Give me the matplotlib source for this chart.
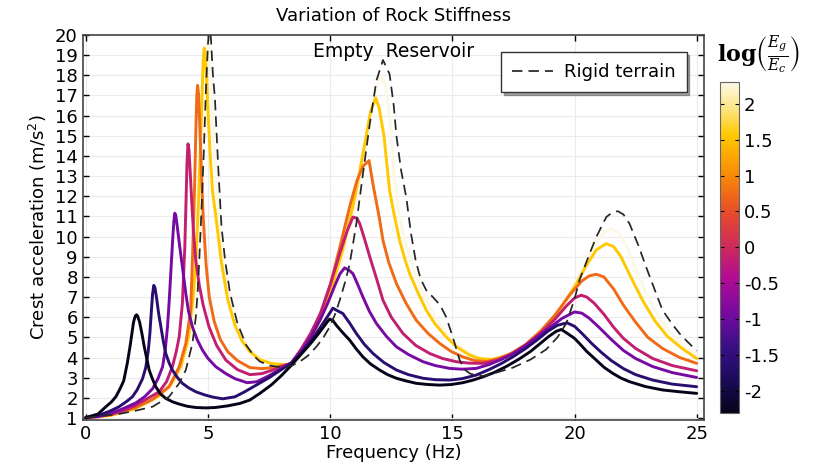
import numpy as np
import matplotlib
matplotlib.use("Agg")
import matplotlib.pyplot as plt
from matplotlib.colors import LinearSegmentedColormap, Normalize
from matplotlib.cm import ScalarMappable

plt.rcParams['font.family'] = ['DejaVu Sans']
plt.rcParams['axes.unicode_minus'] = False
plt.rcParams['mathtext.fontset'] = 'dejavuserif'

# log(Eg/Ec) of each curve
log_ratio = [-2.3, -1.6, -0.9, -0.15, 0.75, 1.55, 2.3]

# curves: frequency (Hz) and crest acceleration (m/s2)
f_black = [0, 0.5, 0.82, 1.05, 1.23, 1.4, 1.55, 1.7, 1.82, 1.95, 2.02, 2.07, 2.12, 2.2, 2.3, 2.39, 2.5,
           2.59, 2.72, 2.86, 3.05, 3.27, 3.55, 3.82, 4.15, 4.5, 4.9, 5.3, 5.8, 6.3, 6.71, 7.12, 7.6,
           8.0, 8.4, 8.8, 9.2, 9.5, 9.75, 9.9, 9.98, 10.1, 10.25, 10.5, 10.8, 11.05, 11.34, 11.65,
           12.02, 12.35, 12.71, 13.1, 13.52, 14.0, 14.48, 14.95, 15.43, 15.85, 16.25, 16.7, 17.2,
           17.7, 18.2, 18.6, 18.95, 19.25, 19.46, 19.7, 20.0, 20.2, 20.5, 20.89, 21.2, 21.57, 21.9,
           22.25, 22.9, 23.6, 24.3, 25.0]
a_black = [1.02, 1.2, 1.56, 1.8, 2.06, 2.45, 2.85, 3.75, 4.65, 5.75, 6.05, 6.12, 6.05, 5.75, 5.15, 4.53, 3.9,
           3.38, 2.95, 2.55, 2.2, 1.97, 1.8, 1.69, 1.58, 1.52, 1.5, 1.52, 1.6, 1.72, 1.89, 2.22, 2.65,
           3.1, 3.6, 4.15, 4.7, 5.15, 5.55, 5.8, 5.9, 5.85, 5.6, 5.25, 4.86, 4.45, 4.03, 3.68,
           3.38, 3.15, 2.97, 2.84, 2.72, 2.66, 2.63, 2.66, 2.75, 2.88, 3.04, 3.25, 3.55,
           3.9, 4.3, 4.7, 5.05, 5.3, 5.39, 5.2, 4.95, 4.7, 4.3, 3.87, 3.52, 3.21, 2.98,
           2.8, 2.56, 2.39, 2.3, 2.22]

f_navy = [0, 0.5, 1.0, 1.36, 1.7, 1.91, 2.1, 2.32, 2.45, 2.55, 2.62, 2.68, 2.73, 2.78, 2.83, 2.9,
          2.97, 3.07, 3.17, 3.27, 3.4, 3.54, 3.75, 3.95, 4.2, 4.5, 4.85, 5.18, 5.6, 6.1, 6.5, 7.0, 7.5,
          8.0, 8.4, 8.8, 9.2, 9.6, 9.9, 10.11, 10.25, 10.52, 10.8, 11.07, 11.4, 11.75, 12.2, 12.71,
          13.2, 13.8, 14.3, 14.89, 15.4, 15.98, 16.5, 17.0, 17.5, 18.0, 18.5, 18.9, 19.3, 19.69,
          20.0, 20.3, 20.7, 21.1, 21.5, 22.0, 22.5, 23.2, 24.0, 25.0]
a_navy = [1.02, 1.12, 1.35, 1.56, 1.85, 2.06, 2.4, 2.95, 3.5, 4.3, 5.2, 6.3, 7.15, 7.58, 7.45, 6.9,
          6.25, 5.52, 4.8, 4.2, 3.75, 3.38, 3.0, 2.72, 2.5, 2.3, 2.15, 2.04, 1.95, 2.05, 2.3, 2.65, 3.0,
          3.4, 3.7, 4.2, 4.8, 5.5, 6.05, 6.45, 6.35, 6.18, 5.7, 5.19, 4.65, 4.2, 3.75, 3.38,
          3.15, 2.97, 2.9, 2.88, 2.95, 3.13, 3.4, 3.7, 4.05, 4.45, 4.9, 5.3, 5.6, 5.72,
          5.55, 5.2, 4.7, 4.25, 3.85, 3.45, 3.15, 2.88, 2.68, 2.55]

f_purple = [0, 0.5, 1.0, 1.5, 2.05, 2.4, 2.73, 2.95, 3.14, 3.25, 3.34, 3.41, 3.48, 3.55, 3.6, 3.64,
            3.68, 3.74, 3.82, 3.95, 4.09, 4.2, 4.36, 4.55, 4.77, 5.0, 5.32, 5.73, 6.1, 6.6, 7.0, 7.5,
            8.0, 8.4, 8.8, 9.2, 9.6, 9.9, 10.2, 10.4, 10.59, 10.8, 10.93, 11.1, 11.34, 11.6, 11.89,
            12.3, 12.71, 13.2, 13.8, 14.3, 14.89, 15.4, 15.98, 16.5, 17.0, 17.5, 18.0, 18.5, 19.0,
            19.5, 20.0, 20.3, 20.6, 21.0, 21.5, 22.0, 22.5, 23.2, 24.0, 25.0]
a_purple = [1.02, 1.08, 1.22, 1.45, 1.75, 2.05, 2.45, 2.95, 3.54, 4.4, 5.52, 6.8, 8.3, 9.8, 10.75, 11.16,
            11.05, 10.5, 9.7, 8.5, 7.17, 6.3, 5.52, 4.9, 4.37, 3.95, 3.54, 3.2, 2.95, 2.75, 2.8, 3.1,
            3.45, 3.72, 4.3, 5.0, 5.9, 6.7, 7.6, 8.15, 8.45, 8.3, 8.16, 7.7, 7.0, 6.3, 5.69,
            5.05, 4.53, 4.15, 3.79, 3.6, 3.46, 3.42, 3.46, 3.65, 3.9, 4.2, 4.6, 5.05, 5.5,
            5.95, 6.26, 6.2, 5.95, 5.5, 4.9, 4.35, 3.95, 3.55, 3.25, 3.01]

f_magenta = [0, 0.5, 1.0, 1.5, 2.0, 2.5, 3.0, 3.3, 3.54, 3.7, 3.82, 3.95, 4.05, 4.1, 4.14, 4.18,
             4.22, 4.27, 4.33, 4.4, 4.5, 4.64, 4.8, 5.04, 5.35, 5.73, 6.2, 6.71, 7.2, 7.7, 8.1, 8.4,
             8.8, 9.2, 9.6, 10.0, 10.4, 10.7, 10.93, 11.1, 11.21, 11.4, 11.62, 11.9, 12.16, 12.5,
             12.98, 13.5, 14.07, 14.6, 15.16, 15.7, 16.25, 16.8, 17.4, 18.0, 18.6, 19.2, 19.7, 20.0,
             20.27, 20.5, 20.8, 21.2, 21.6, 22.0, 22.5, 23.2, 24.0, 25.0]
a_magenta = [1.02, 1.06, 1.18, 1.35, 1.6, 1.95, 2.3, 2.8, 3.54, 4.3, 5.03, 6.68, 9.5, 11.8, 13.7, 14.6,
             14.3, 13.2, 11.8, 10.3, 8.8, 7.6, 6.6, 5.52, 4.6, 3.87, 3.4, 3.15, 3.2, 3.4, 3.6, 3.72,
             4.4, 5.2, 6.2, 7.6, 9.2, 10.3, 10.97, 10.9, 10.64, 9.9, 8.99, 7.9, 6.84, 6.0,
             5.19, 4.6, 4.2, 3.95, 3.79, 3.72, 3.71, 3.85, 4.15, 4.6, 5.2, 5.9, 6.6, 6.95,
             7.09, 7.0, 6.7, 6.15, 5.5, 4.95, 4.45, 3.95, 3.6, 3.34]

f_orange = [0, 1.0, 2.0, 2.7, 3.41, 3.82, 4.09, 4.29, 4.36, 4.45, 4.5, 4.54, 4.57, 4.61, 4.66, 4.72,
            4.8, 4.92, 5.05, 5.25, 5.5, 5.8, 6.2, 6.71, 7.2, 7.7, 8.1, 8.4, 8.8, 9.2, 9.6, 10.0,
            10.4, 10.8, 11.1, 11.35, 11.59, 11.75, 12.0, 12.16, 12.4, 12.71, 13.1, 13.52, 14.0,
            14.48, 14.95, 15.43, 15.9, 16.4, 16.9, 17.4, 18.0, 18.6, 19.2, 19.8, 20.3, 20.6, 20.89,
            21.2, 21.6, 22.0, 22.5, 23.0, 23.6, 24.3, 25.0]
a_orange = [1.02, 1.15, 1.5, 1.9, 2.55, 3.54, 4.7, 6.35, 8.8, 12.5, 15.2, 17.0, 17.5, 17.1, 15.6, 13.5,
            11.0, 8.6, 7.0, 5.8, 4.9, 4.3, 3.85, 3.5, 3.45, 3.5, 3.6, 3.7, 4.3, 5.1, 6.1, 7.6,
            9.5, 11.5, 12.8, 13.5, 13.77, 12.6, 11.0, 9.81, 8.7, 7.67, 6.7, 5.85, 5.2,
            4.7, 4.3, 4.03, 3.85, 3.8, 3.95, 4.2, 4.65, 5.3, 6.1, 7.1, 7.8, 8.05, 8.13,
            8.0, 7.4, 6.6, 5.75, 5.0, 4.45, 4.0, 3.71]

f_gold = [0, 1.0, 2.0, 3.0, 3.5, 3.9, 4.2, 4.39, 4.5, 4.6, 4.68, 4.75, 4.8, 4.84, 4.88, 4.94, 5.0,
          5.08, 5.18, 5.34, 5.55, 5.8, 6.1, 6.4, 6.71, 7.1, 7.6, 8.1, 8.4, 8.8, 9.2, 9.6, 10.0, 10.5,
          11.0, 11.4, 11.65, 11.86, 12.0, 12.2, 12.43, 12.6, 12.84, 13.05, 13.25, 13.6, 13.93,
          14.3, 14.75, 15.2, 15.71, 16.1, 16.6, 17.1, 17.6, 18.2, 18.8, 19.4, 20.0, 20.5, 20.9,
          21.3, 21.6, 21.9, 22.3, 22.8, 23.3, 23.8, 24.4, 25.0]
a_gold = [1.02, 1.12, 1.45, 2.1, 2.7, 3.6, 5.0, 7.0, 8.8, 11.5, 14.2, 16.8, 18.7, 19.35, 19.1, 17.9, 16.2,
          14.2, 12.3, 10.8, 8.7, 6.9, 5.6, 4.8, 4.3, 3.9, 3.7, 3.65, 3.65, 4.2, 4.9, 5.9, 7.2, 9.3,
          11.9, 14.5, 16.2, 16.88, 16.4, 15.0, 12.29, 11.2, 9.81, 8.9, 8.16, 7.2, 6.35,
          5.65, 5.02, 4.5, 4.12, 3.95, 3.9, 4.05, 4.3, 4.8, 5.5, 6.4, 7.5, 8.6, 9.35,
          9.65, 9.5, 9.0, 8.0, 6.8, 5.8, 5.05, 4.45, 3.95]

f_cream = [0, 1.0, 2.0, 3.0, 3.5, 3.9, 4.2, 4.45, 4.6, 4.7, 4.8, 4.9, 4.97, 5.04, 5.12, 5.22, 5.35,
           5.5, 5.7, 5.95, 6.25, 6.6, 7.0, 7.5, 8.0, 8.4, 8.8, 9.2, 9.6, 10.0, 10.5, 11.0, 11.5,
           11.8, 12.07, 12.25, 12.45, 12.57, 12.8, 13.04, 13.52, 14.07, 14.5, 14.89, 15.3, 15.71,
           16.1, 16.6, 17.1, 17.6, 18.2, 18.8, 19.4, 20.0, 20.5, 20.9, 21.2, 21.5, 21.8, 22.1,
           22.5, 23.0, 23.5, 24.0, 24.5, 25.0]
a_cream = [1.02, 1.1, 1.42, 2.0, 2.55, 3.3, 4.6, 6.5, 8.8, 11.0, 14.5, 18.0, 19.8, 19.4, 17.5, 15.0, 12.5,
           10.3, 8.3, 6.6, 5.4, 4.6, 4.1, 3.8, 3.65, 3.6, 4.0, 4.6, 5.6, 6.9, 8.8, 11.4, 14.8,
           17.0, 18.0, 17.5, 15.8, 13.5, 11.2, 9.81, 7.99, 6.51, 5.6, 5.02, 4.55, 4.2,
           4.0, 3.9, 4.0, 4.25, 4.75, 5.45, 6.4, 7.6, 8.8, 9.7, 10.2, 10.39, 10.2, 9.6,
           8.4, 7.0, 5.9, 5.1, 4.55, 4.12]

f_rigid = [0, 1.36, 2.0, 2.73, 3.41, 3.82, 4.09, 4.36, 4.5, 4.57, 4.64, 4.72, 4.82, 4.92, 5.0, 5.06,
           5.12, 5.2, 5.28, 5.41, 5.55, 5.7, 5.9, 6.2, 6.57, 6.9, 7.12, 7.53, 8.07, 8.4, 8.75, 9.1,
           9.43, 9.7, 9.98, 10.2, 10.39, 10.6, 10.8, 11.07, 11.34, 11.62, 11.89, 12.16, 12.43,
           12.6, 12.71, 12.9, 13.12, 13.3, 13.5, 13.7, 13.93, 14.2, 14.5, 14.75, 15.02, 15.3,
           15.5, 15.71, 16.0, 16.25, 16.8, 17.48, 18.2, 18.84, 19.3, 19.66, 20.0, 20.2, 20.6,
           20.89, 21.3, 21.55, 21.77, 22.0, 22.25, 22.6, 22.93, 23.3, 23.6, 24.0, 24.3, 24.65, 25.0]
a_rigid = [1.01, 1.2, 1.35, 1.56, 2.06, 2.72, 3.38, 4.7, 6.0, 7.17, 8.8, 11.0, 14.0, 17.5, 19.6, 20.6,
           19.8, 18.0, 16.9, 13.6, 10.5, 8.8, 7.2, 5.7, 4.6, 4.05, 3.8, 3.6, 3.5, 3.58, 3.79, 4.1,
           4.53, 4.95, 5.52, 6.15, 6.84, 7.7, 8.66, 10.64, 13.11, 15.59, 17.73, 18.76, 18.06,
           16.5, 15.0, 13.3, 11.9, 10.2, 8.8, 7.9, 7.34, 7.0, 6.6, 6.0, 5.0, 3.87,
           3.4, 3.21, 3.1, 3.08, 3.25, 3.5, 3.9, 4.4, 5.0, 5.69, 6.9, 7.83, 9.1,
           9.98, 10.97, 11.2, 11.26, 11.1, 10.64, 9.6, 8.49, 7.3, 6.35, 5.65, 5.19, 4.75, 4.33]

freqs = [f_black, f_navy, f_purple, f_magenta, f_orange, f_gold, f_cream]
accs = [a_black, a_navy, a_purple, a_magenta, a_orange, a_gold, a_cream]

cbar_ticks = [2, 1.5, 1, 0.5, 0, -0.5, -1, -1.5, -2]
cbar_labels = ['2', '1.5', '1', '0.5', '0', '-0.5', '-1', '-1.5', '-2']

cmap = LinearSegmentedColormap.from_list('stiff', [
    (0.0, '#07041a'), (0.1, '#1a0b5a'), (0.2, '#3a0f86'), (0.3, '#760aa2'),
    (0.41, '#b20c92'), (0.5, '#cc2a5c'), (0.6, '#e6482e'), (0.72, '#f98a04'),
    (0.84, '#ffc800'), (0.93, '#fde890'), (1.0, '#fdf8e6')])
norm = Normalize(-2.3, 2.3)

fig = plt.figure(figsize=(8.14, 4.70), dpi=100)
ax = fig.add_axes([0.1016, 0.1064, 0.7633, 0.8191])

for v, f, a in zip(log_ratio[::-1], freqs[::-1], accs[::-1]):
    ax.plot(f, a, color=cmap(norm(v)), lw=2.1, solid_capstyle='round', solid_joinstyle='round')
ax.plot(f_rigid, a_rigid, color='#262626', lw=1.25, dashes=(6, 3.5), label='Rigid terrain')

ax.set_xlim(-0.13, 25.3)
ax.set_ylim(0.9, 20)
ax.set_xticks([0, 5, 10, 15, 20, 25])
ax.set_yticks(range(1, 21))
ax.tick_params(direction='in', top=True, right=True, labelsize=13, length=4, width=1)
ax.grid(True, color='#ebebeb', lw=0.8)
ax.set_axisbelow(True)
for s in ax.spines.values():
    s.set_color('#444444')
    s.set_linewidth(1.2)

ax.set_xlabel('Frequency (Hz)', fontsize=13, labelpad=1)
ax.set_ylabel(r'Crest acceleration (m/s$^{\mathsf{2}}$)', fontsize=13, labelpad=4)
ax.set_title('Variation of Rock Stiffness', fontsize=13, pad=10)
ax.text(0.5, 0.958, 'Empty  Reservoir', transform=ax.transAxes, ha='center', va='center',
        fontsize=13.5)

leg = ax.legend(loc='upper right', bbox_to_anchor=(0.972, 0.955), borderaxespad=0,
                fontsize=13, frameon=True, fancybox=False, shadow=True, handlelength=2.3,
                borderpad=0.6, handletextpad=0.6)
leg.get_frame().set_edgecolor('#333333')
leg.get_frame().set_linewidth(1.0)

cax = fig.add_axes([0.8845, 0.1213, 0.0233, 0.7043])
sm = ScalarMappable(norm=norm, cmap=cmap)
cb = fig.colorbar(sm, cax=cax)
cb.set_ticks(cbar_ticks)
cb.set_ticklabels(cbar_labels)
cax.tick_params(direction='in', left=True, right=True, labelsize=13, length=3)
cb.outline.set_edgecolor('#666666')
fig.text(0.932, 0.883, r'$\mathbf{log}\left(\frac{\boldsymbol{E_g}}{\boldsymbol{E_c}}\right)$',
         ha='center', va='center', fontsize=16)

fig.savefig('out.png', dpi=100)
